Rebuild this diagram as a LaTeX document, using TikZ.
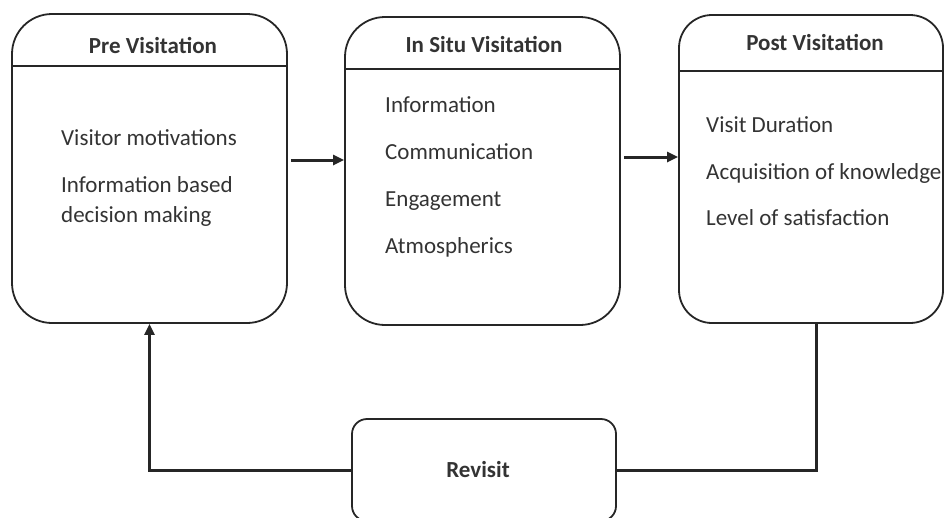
\documentclass[tikz,border=0pt]{standalone}
\usepackage{fontspec}
\setmainfont{Carlito}
\usetikzlibrary{arrows.meta}
\definecolor{ink}{HTML}{262626}
\definecolor{txt}{HTML}{333333}
\tikzset{
  bigbox/.style={draw=ink, line width=1.8pt, rounded corners=40pt, minimum width=275pt, inner sep=0pt},
  smallbox/.style={draw=ink, line width=1.8pt, rounded corners=15pt, minimum width=264pt, minimum height=102pt, inner sep=0pt},
  hdrline/.style={draw=ink, line width=1.5pt},
  title/.style={font=\fontsize{23}{27}\selectfont\bfseries, text=txt, inner sep=0pt, anchor=base},
  item/.style={font=\fontsize{23}{30}\selectfont, text=txt, inner sep=0pt, anchor=base west, align=left},
  conn/.style={draw=ink, line width=3pt},
  arr/.style={conn, -{Triangle[length=11pt,width=10pt]}},
}
\begin{document}
\begin{tikzpicture}[x=1pt,y=-1pt]
\useasboundingbox (0,0) rectangle (944,517);
\clip (0,0) rectangle (944,517);
% boxes
\node[bigbox, minimum height=309pt] (pre) at (149.5,168.5) {};
\node[bigbox, minimum height=308pt] (insitu) at (482.5,171) {};
\node[bigbox, minimum height=308pt, minimum width=264pt, rounded corners=33pt] (post) at (811,169) {};
\node[smallbox] (revisit) at (484,470) {};
% header rules
\coordinate (hp) at (0,66);
\coordinate (hi) at (0,69);
\coordinate (hq) at (0,71);
\draw[hdrline] (pre.west |- hp) -- (pre.east |- hp);
\draw[hdrline] (insitu.west |- hi) -- (insitu.east |- hi);
\draw[hdrline] (post.west |- hq) -- (post.east |- hq);
% titles
\node[title] (tpre) at (153,53) {Pre Visitation};
\node[title] (tinsitu) at (484,52) {In Situ Visitation};
\node[title] (tpost) at (815,50) {Post Visitation};
\node[title] (trevisit) at (478,477) {Revisit};
% items
\node[item] (p1) at (61,145) {Visitor motivations};
\node[item] (p2) at (61,222) {Information based\\decision making};
\node[item] (i1) at (385,112) {Information};
\node[item] (i2) at (385,159) {Communication};
\node[item] (i3) at (385,206) {Engagement};
\node[item] (i4) at (385,253) {Atmospherics};
\node[item] (q1) at (706,132) {Visit Duration};
\node[item] (q2) at (706,179) {Acquisition of knowledge};
\node[item] (q3) at (706,225) {Level of satisfaction};
% connectors
\coordinate (a1) at (0,160);
\coordinate (a2) at (0,157);
\coordinate (vx) at (816,0);
\draw[arr] ([xshift=3pt]pre.east |- a1) -- (insitu.west |- a1);
\draw[arr] ([xshift=3pt]insitu.east |- a2) -- (post.west |- a2);
\draw[conn] (post.south -| vx) |- (revisit.east);
\draw[arr] (revisit.west) -| (pre.south);
\end{tikzpicture}
\end{document}
